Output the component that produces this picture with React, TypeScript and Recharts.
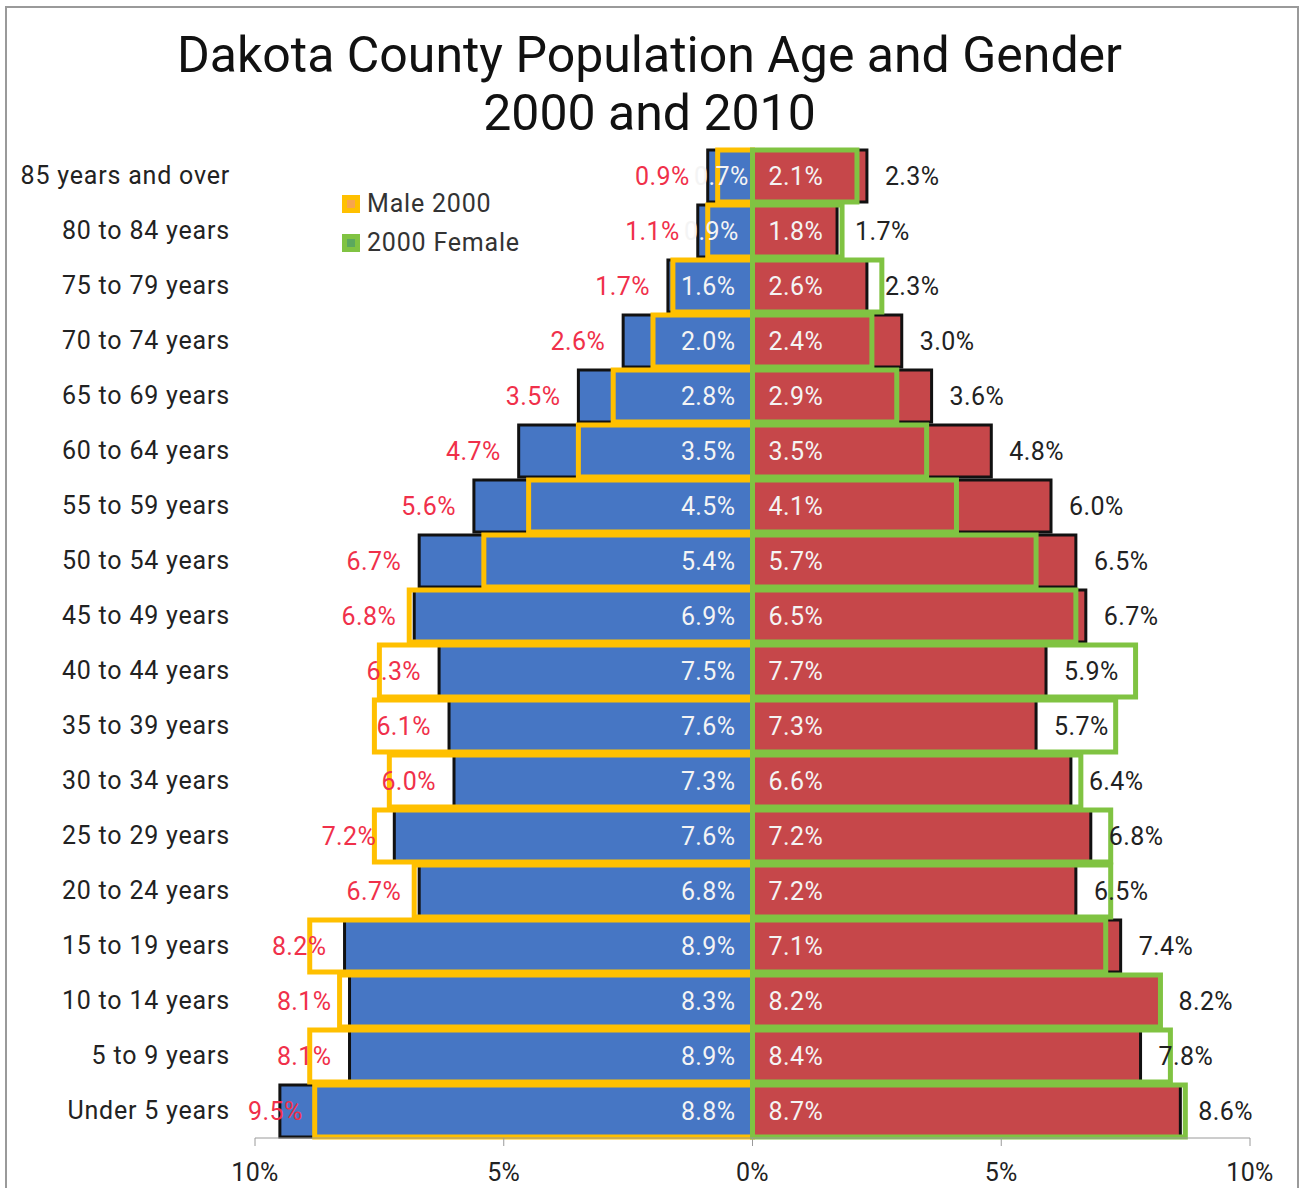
import React from 'react';
import { ComposedChart, Bar, XAxis, YAxis, Legend, LabelList } from 'recharts';

const ageGroups = [
  '85 years and over', '80 to 84 years', '75 to 79 years', '70 to 74 years',
  '65 to 69 years', '60 to 64 years', '55 to 59 years', '50 to 54 years',
  '45 to 49 years', '40 to 44 years', '35 to 39 years', '30 to 34 years',
  '25 to 29 years', '20 to 24 years', '15 to 19 years', '10 to 14 years',
  '5 to 9 years', 'Under 5 years',
];
const male2010 = [0.9, 1.1, 1.7, 2.6, 3.5, 4.7, 5.6, 6.7, 6.8, 6.3, 6.1, 6.0, 7.2, 6.7, 8.2, 8.1, 8.1, 9.5];
const male2000 = [0.7, 0.9, 1.6, 2.0, 2.8, 3.5, 4.5, 5.4, 6.9, 7.5, 7.6, 7.3, 7.6, 6.8, 8.9, 8.3, 8.9, 8.8];
const female2000 = [2.1, 1.8, 2.6, 2.4, 2.9, 3.5, 4.1, 5.7, 6.5, 7.7, 7.3, 6.6, 7.2, 7.2, 7.1, 8.2, 8.4, 8.7];
const female2010 = [2.3, 1.7, 2.3, 3.0, 3.6, 4.8, 6.0, 6.5, 6.7, 5.9, 5.7, 6.4, 6.8, 6.5, 7.4, 8.2, 7.8, 8.6];
const xTicks = [-10, -5, 0, 5, 10];

// males go to the left, so they are stored negative in the table
const rows = ageGroups.map((age, i) => ({
  age,
  m2010: -male2010[i],
  m2000: -male2000[i],
  f2000: female2000[i],
  f2010: female2010[i],
}));

const FONT = 'Roboto, sans-serif';
const BLUE = '#4676C4';
const RED = '#C6474A';
const YELLOW = '#FFC000';
const GREEN = '#80C342';
const BAR = 52;
const PLOT_LEFT = 255;
const LABEL_W = 54;

// label at the outer end of the bar, or near the 0 line
const makeLabel = (color: string, at: 'end' | 'base', gap: number) => (props: any) => {
  const vb = props.viewBox && props.viewBox.width !== undefined ? props.viewBox : props;
  const x = Number(vb.x), w = Number(vb.width), y = Number(vb.y), h = Number(vb.height);
  const v = Number(props.value);
  const neg = v < 0;
  const a = x, b = x + w;
  const end = neg ? Math.min(a, b) : Math.max(a, b);
  const base = neg ? Math.max(a, b) : Math.min(a, b);
  let tx: number;
  let anchor: 'start' | 'end' = neg ? 'end' : 'start';
  if (at === 'end') {
    tx = neg ? end - gap : end + gap;
    // keep the text inside the chart
    if (neg && tx - LABEL_W < PLOT_LEFT - 7) {
      tx = PLOT_LEFT - 7;
      anchor = 'start';
    }
  } else {
    const len = Math.abs(w);
    const g = Math.min(gap, len - 31);
    tx = neg ? base - g : base + gap;
  }
  return (
    <text x={tx} y={y + h / 2} dy="0.35em" textAnchor={anchor} fill={color}
      fontFamily={FONT} fontSize={25} letterSpacing={0.4}>
      {Math.abs(v).toFixed(1)}%
    </text>
  );
};

const LegendBox = () => (
  <div style={{ fontFamily: FONT, fontSize: 25, color: '#333', lineHeight: '39px', letterSpacing: 0.8 }}>
    {[
      { c: YELLOW, inner: '#F7A54E', t: 'Male 2000' },
      { c: GREEN, inner: '#5BA85E', t: '2000 Female' },
    ].map((it) => (
      <div key={it.t} style={{ display: 'flex', alignItems: 'center' }}>
        <svg width={20} height={20} style={{ marginRight: 6 }}>
          <rect x={1} y={1} width={18} height={18} fill={it.c} />
          <rect x={6} y={6} width={8} height={8} fill={it.inner} />
        </svg>
        <span>{it.t}</span>
      </div>
    ))}
  </div>
);

export default function App() {
  return (
    <div style={{ position: 'absolute', left: 0, top: 0, width: 1299, height: 1188, background: '#fff', overflow: 'hidden' }}>
      <div style={{ position: 'absolute', left: 5, top: 6, width: 1290, height: 1200, border: '2px solid #9a9a9a' }} />
      <div style={{ position: 'absolute', left: 0, top: 26, width: 1299, textAlign: 'center', fontFamily: FONT, fontSize: 50, lineHeight: '58px', color: '#111' }}>
        <div>Dakota County Population Age and Gender</div>
        <div>2000 and 2010</div>
      </div>
      <div style={{ position: 'absolute', left: 0, top: 0 }}>
        <ComposedChart
          width={1299}
          height={1188}
          data={rows}
          layout="vertical"
          margin={{ top: 148, right: 49, bottom: 0, left: 0 }}
          barGap={-BAR}
        >
          <XAxis
            type="number"
            domain={[-10, 10]}
            ticks={xTicks}
            allowDataOverflow
            tickFormatter={(v: number) => `${Math.abs(v)}%`}
            height={50}
            tickSize={8}
            tickMargin={17}
            stroke="#9a9a9a"
            tick={{ fill: '#222', fontFamily: FONT, fontSize: 25, letterSpacing: 0.4 }}
          />
          <YAxis
            type="category"
            dataKey="age"
            width={PLOT_LEFT}
            axisLine={false}
            tickLine={false}
            tickSize={0}
            tickMargin={25}
            interval={0}
            tick={{ fill: '#222', fontFamily: FONT, fontSize: 25, letterSpacing: 0.8 }}
          />
          <Legend
            layout="vertical"
            align="center"
            verticalAlign="middle"
            content={<LegendBox />}
            wrapperStyle={{ position: 'absolute', left: 341, top: 184, width: 240 }}
          />
          <Bar dataKey="m2010" barSize={BAR} fill={BLUE} stroke="#111" strokeWidth={3} isAnimationActive={false} />
          <Bar dataKey="f2010" barSize={BAR} fill={RED} stroke="#111" strokeWidth={3} isAnimationActive={false} />
          <Bar dataKey="m2000" barSize={BAR} fill="none" stroke={YELLOW} strokeWidth={5} isAnimationActive={false} />
          <Bar dataKey="f2000" barSize={BAR} fill="none" stroke={GREEN} strokeWidth={5} isAnimationActive={false} />
          {/* label carriers drawn last so text sits above the outlines */}
          <Bar dataKey="m2010" barSize={BAR} fill="none" stroke="none" isAnimationActive={false}>
            <LabelList dataKey="m2010" content={makeLabel('#F0304A', 'end', 18)} />
          </Bar>
          <Bar dataKey="m2000" barSize={BAR} fill="none" stroke="none" isAnimationActive={false}>
            <LabelList dataKey="m2000" content={makeLabel('#F4F4F4', 'base', 17)} />
          </Bar>
          <Bar dataKey="f2000" barSize={BAR} fill="none" stroke="none" isAnimationActive={false}>
            <LabelList dataKey="f2000" content={makeLabel('#F4F4F4', 'base', 16)} />
          </Bar>
          <Bar dataKey="f2010" barSize={BAR} fill="none" stroke="none" isAnimationActive={false}>
            <LabelList dataKey="f2010" content={makeLabel('#222', 'end', 18)} />
          </Bar>
        </ComposedChart>
      </div>
    </div>
  );
}
